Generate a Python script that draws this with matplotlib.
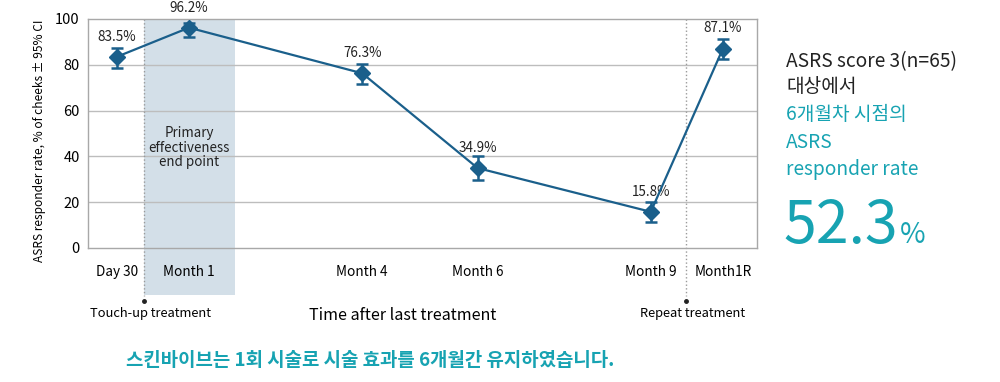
import numpy as np
import matplotlib.pyplot as plt

plt.rcParams['font.family'] = ['Noto Sans CJK KR', 'DejaVu Sans']

# données
labels = ['Day 30', 'Month 1', 'Month 4', 'Month 6', 'Month 9', 'Month1R']
months = np.array([-0.25, 1, 4, 6, 9, 10.25])
rate = np.array([83.5, 96.2, 76.3, 34.9, 15.8, 87.1])
ci_low = np.array([78.6, 92.3, 71.7, 29.8, 11.5, 82.5])
ci_high = np.array([87.5, 98.4, 80.5, 40.2, 20.1, 91.3])

line_col = '#1a5f8b'
teal = '#17a3b2'
grey = '#a8a8a8'

fig = plt.figure(figsize=(10, 3.82), dpi=100)
ax = fig.add_axes([0.088, 0.3508, 0.669, 0.5995])

xmin, xmax = -0.75, 10.84
ax.set_xlim(xmin, xmax)
ax.set_ylim(0, 100)

# zone "primary end point" (descend sous l'axe)
ax.fill_between([0.22, 1.8], -20.5, 100, color='#d3dfe8', zorder=0, clip_on=False, lw=0)

ax.set_yticks([0, 20, 40, 60, 80, 100])
ax.set_yticklabels(['0', '20', '40', '60', '80', '100'], fontsize=10.5)
for v in [20, 40, 60, 80]:
    ax.axhline(v, color='#bdbdbd', lw=1, zorder=1)
for s in ax.spines.values():
    s.set_color(grey)
    s.set_linewidth(1)
ax.tick_params(length=0, pad=6)

ax.set_xticks(months)
ax.set_xticklabels(labels, fontsize=9.8)
ax.tick_params(axis='x', pad=12)

# lignes pointillées des traitements
for xv in [0.22, 9.61]:
    ax.plot([xv, xv], [100, -21], color='#9a9a9a', lw=1, ls=':', clip_on=False, zorder=2)
    ax.plot([xv], [-23], marker='o', ms=2.5, color='#222222', clip_on=False)

err = np.vstack([rate - ci_low, ci_high - rate])
ax.errorbar(months, rate, yerr=err, color=line_col, lw=1.6, marker='D', ms=8,
            capsize=4.5, elinewidth=1.8, capthick=1.8, zorder=5)

for xv, v in zip(months, rate):
    ax.annotate(f'{v:.1f}%', (xv, v), xytext=(0, 14.5), textcoords='offset points',
                ha='center', va='center', fontsize=9.7, color='#222222')

ax.text(1.0, 43.7, 'Primary\neffectiveness\nend point', ha='center', va='center',
        fontsize=9.6, color='#222222', linespacing=1.05)

ax.set_ylabel('ASRS responder rate, % of cheeks ± 95% CI', fontsize=8.6)
ax.yaxis.set_label_coords(-0.063, 0.467)

fig.text(0.150, 1 - 314 / 382, 'Touch-up treatment', ha='center', va='center', fontsize=9.3)
fig.text(0.693, 1 - 314 / 382, 'Repeat treatment', ha='center', va='center', fontsize=9.3)
fig.text(0.403, 1 - 316 / 382, 'Time after last treatment', ha='center', va='center', fontsize=11.6)

# texte de droite
x0 = 0.786
fs = 13.8
fig.text(x0, 1 - 62 / 382, 'ASRS score 3(n=65)', fontsize=fs, color='#222222', va='center')
fig.text(x0, 1 - 87 / 382, '대상에서', fontsize=fs, color='#222222', va='center')
fig.text(x0, 1 - 115 / 382, '6개월차 시점의', fontsize=fs, color=teal, va='center')
fig.text(x0, 1 - 142 / 382, 'ASRS', fontsize=fs, color=teal, va='center')
fig.text(x0, 1 - 169 / 382, 'responder rate', fontsize=fs, color=teal, va='center')
fig.text(x0 - 0.003, 1 - 243 / 382, '52.3', fontsize=42.5, color=teal, va='baseline')
fig.text(0.900, 1 - 243 / 382, '%', fontsize=20, color=teal, va='baseline')

fig.text(0.370, 1 - 360 / 382, '스킨바이브는 1회 시술로 시술 효과를 6개월간 유지하였습니다.',
         ha='center', va='center', fontsize=13.6, color=teal, fontweight='bold')

fig.savefig('out.png', dpi=100)
